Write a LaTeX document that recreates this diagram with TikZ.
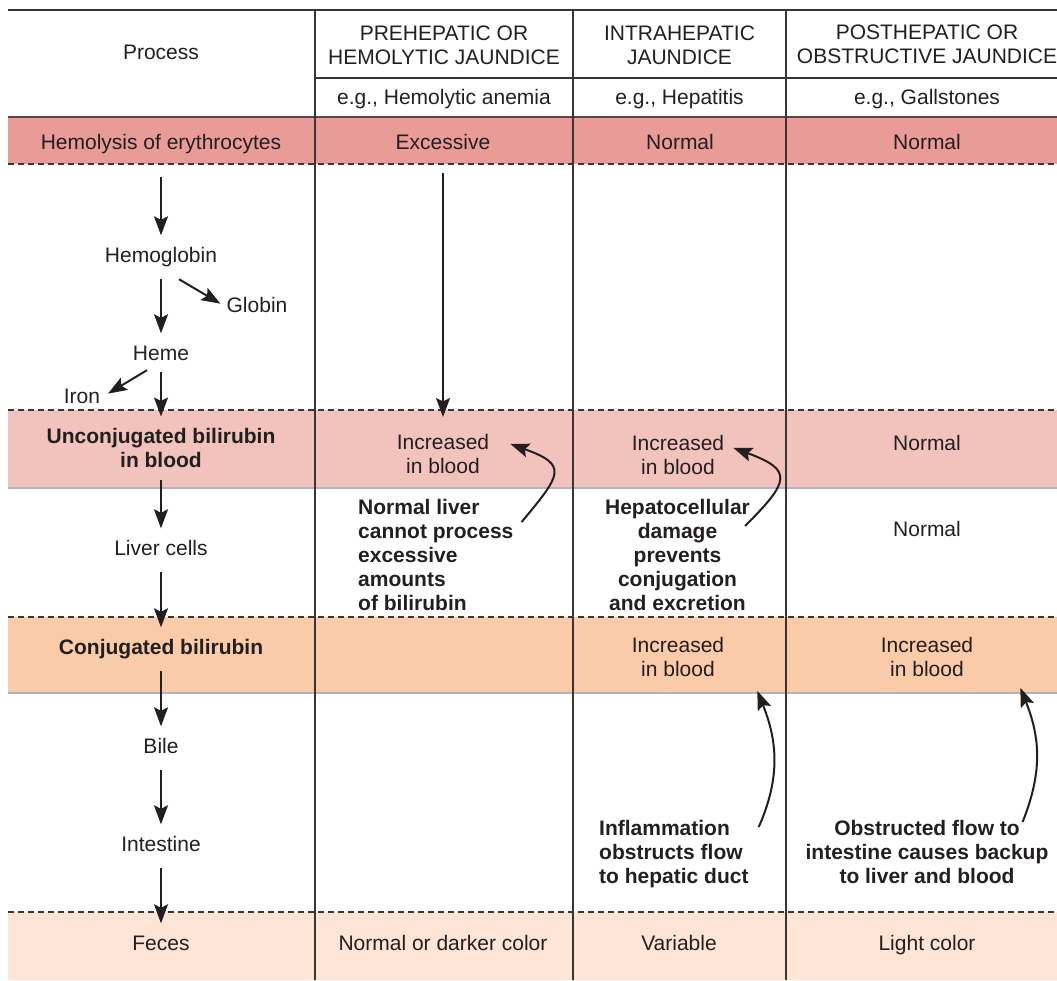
\documentclass[tikz,border=0pt]{standalone}
\usepackage{fontspec}
\setmainfont{Liberation Sans}
\usetikzlibrary{arrows.meta}
\definecolor{ink}{HTML}{231F20}
\definecolor{darkrule}{HTML}{3A3535}
\definecolor{browntop}{HTML}{5A4848}
\definecolor{greyrule}{HTML}{B2B4B9}
\definecolor{hemoband}{HTML}{E99B98}
\definecolor{unconband}{HTML}{F2C2BC}
\definecolor{conjband}{HTML}{FACBA9}
\definecolor{fecesband}{HTML}{FDE4D5}
\newcommand\tablefont{\fontsize{21pt}{24pt}\selectfont}
\tikzset{
  cell/.style={font=\tablefont, text=ink, inner sep=0pt, anchor=base},
  stage/.style={font=\tablefont, text=ink, inner xsep=0pt, inner ysep=12pt, text height=15pt, text depth=4.5pt, anchor=base},
  head/.style={font=\tablefont, text=ink, inner sep=0pt, align=center, anchor=north},
  note/.style={font=\tablefont\bfseries, text=ink, inner sep=0pt},
  flow/.style={draw=ink, line width=2pt, -{Stealth[length=19pt,width=14pt,inset=3.5pt]}},
  dashrule/.style={draw=darkrule, line width=1.4pt, dash pattern=on 6pt off 4pt},
  bandrule/.style={draw=greyrule, line width=2.5pt}
}
\begin{document}
\begin{tikzpicture}[x=1pt, y=-1pt]
                \useasboundingbox (0, 0) rectangle (1057, 980);
                \fill [hemoband] (8, 117) rectangle (1057, 164);
                \fill [unconband] (8, 410) rectangle (1057, 488);
                \fill [conjband] (8, 617) rectangle (1057, 693);
                \fill [fecesband] (8, 912) rectangle (1057, 980);
                \draw [darkrule, line width=2pt] (8, 10) -- (1057, 10);
                \draw [darkrule, line width=1.5pt] (315, 78) -- (1057, 78);
                \draw [browntop, line width=2.5pt] (8, 117) -- (1057, 117);
                \foreach \y in {164, 410, 617, 912}
                    \draw [dashrule] (8, \y) -- (1057, \y);
                \draw [bandrule] (8, 488) -- (1057, 488);
                \draw [bandrule] (8, 693) -- (1057, 693);
                \foreach \x in {315, 573, 786}
                    \draw [darkrule, line width=1.3pt] (\x, 10) -- (\x, 980);

                \node [cell] (process) at (161, 59.5) {Process};
                \node [head] (pre) at (444, 25.5) {PREHEPATIC OR\\HEMOLYTIC JAUNDICE};
                \node [head] (intra) at (679.5, 25.5) {INTRAHEPATIC\\JAUNDICE};
                \node [head] (post) at (927, 24.5) {POSTHEPATIC OR\\OBSTRUCTIVE JAUNDICE};
                \node [cell] (egpre) at (444, 104.5) {e.g., Hemolytic anemia};
                \node [cell] (egintra) at (679.5, 104.5) {e.g., Hepatitis};
                \node [cell] (egpost) at (927, 104.5) {e.g., Gallstones};

                \node [stage] (hemo) at (161, 149.5) {Hemolysis of erythrocytes};
                \node [cell] (exc) at (443, 149.5) {Excessive};
                \node [cell] (hemointra) at (680, 149.5) {Normal};
                \node [cell] (hemopost) at (927, 149.5) {Normal};

                \node [stage] (hgb) at (161, 262.5) {Hemoglobin};
                \node [stage] (globin) at (257, 312.5) {Globin};
                \node [stage] (heme) at (161, 360.5) {Heme};
                \node [stage] (iron) at (82, 403.5) {Iron};

                \node [note, align=center, inner ysep=12pt, anchor=north] (uncon) at (161, 416.5) {Unconjugated bilirubin\\in blood};
                \node [head] (incpre) at (443, 434.5) {Increased\\in blood};
                \node [head] (incintra) at (678, 435.5) {Increased\\in blood};
                \node [cell] (unconpost) at (927, 450.5) {Normal};

                \node [stage] (liver) at (161, 555.5) {Liver cells};
                \node [cell] (liverpost) at (927, 536.5) {Normal};
                \node [note, align=left, anchor=north west] (whypre) at (358, 499.5) {Normal liver\\cannot process\\excessive\\amounts\\of bilirubin};
                \node [note, align=center, anchor=north] (whyintra) at (677.5, 499.5) {Hepatocellular\\damage\\prevents\\conjugation\\and excretion};

                \node [stage, font=\tablefont\bfseries] (conj) at (161, 654.5) {Conjugated bilirubin};
                \node [head] (conjintra) at (678, 637.5) {Increased\\in blood};
                \node [head] (conjpost) at (927, 637.5) {Increased\\in blood};

                \node [stage] (bile) at (161, 753.5) {Bile};
                \node [stage] (intes) at (161, 851.5) {Intestine};
                \node [note, align=left, anchor=north west] (ductintra) at (599, 820.5) {Inflammation\\obstructs flow\\to hepatic duct};
                \node [note, align=center, anchor=north] (ductpost) at (927, 820.5) {Obstructed flow to\\intestine causes backup\\to liver and blood};

                \node [stage] (feces) at (161, 950.5) {Feces};
                \node [cell] (fecespre) at (443, 950.5) {Normal or darker color};
                \node [cell] (fecesintra) at (679, 950.5) {Variable};
                \node [cell] (fecespost) at (927, 950.5) {Light color};

                \draw [flow, shorten <=11pt] (hemo) -- (hgb);
                \draw [flow] (hgb) -- (heme);
                \draw [flow, shorten >=7pt] ([xshift=18pt]hgb.south) -- (globin.west);
                \draw [flow, shorten <=-5pt] (heme) -- (uncon);
                \draw [flow, shorten >=9pt] ([xshift=-14pt, yshift=7pt]heme.south) -- (iron.east);
                \draw [flow] (uncon) -- (liver);
                \draw [flow] (liver) -- (conj);
                \draw [flow] (conj) -- (bile);
                \draw [flow] (bile) -- (intes);
                \draw [flow] (intes) -- (feces);
                \draw [flow, shorten <=23.5pt, shorten >=17.5pt] (exc.south) -- (incpre.north);

                \draw [flow] ([xshift=8pt, yshift=-22.5pt]whypre.north east) .. controls +(40, -48) and +(58, 21) .. ([xshift=21pt, yshift=10.5pt]incpre.east);
                \draw [flow] ([xshift=-5pt, yshift=-26.5pt]whyintra.north east) .. controls +(45, -45) and +(60, 22) .. ([xshift=9pt, yshift=7.5pt]incintra.east);
                \draw [flow] ([xshift=10pt, yshift=-6.5pt]ductintra.north east) .. controls +(22, -50) and +(20, 50) .. ([xshift=33pt, yshift=-13.5pt]conjintra.south east);
                \draw [flow] ([xshift=-26pt, yshift=-1.5pt]ductpost.north east) .. controls +(20, -50) and +(20, 50) .. ([xshift=47pt, yshift=-10.5pt]conjpost.south east);
            \end{tikzpicture}
\end{document}
